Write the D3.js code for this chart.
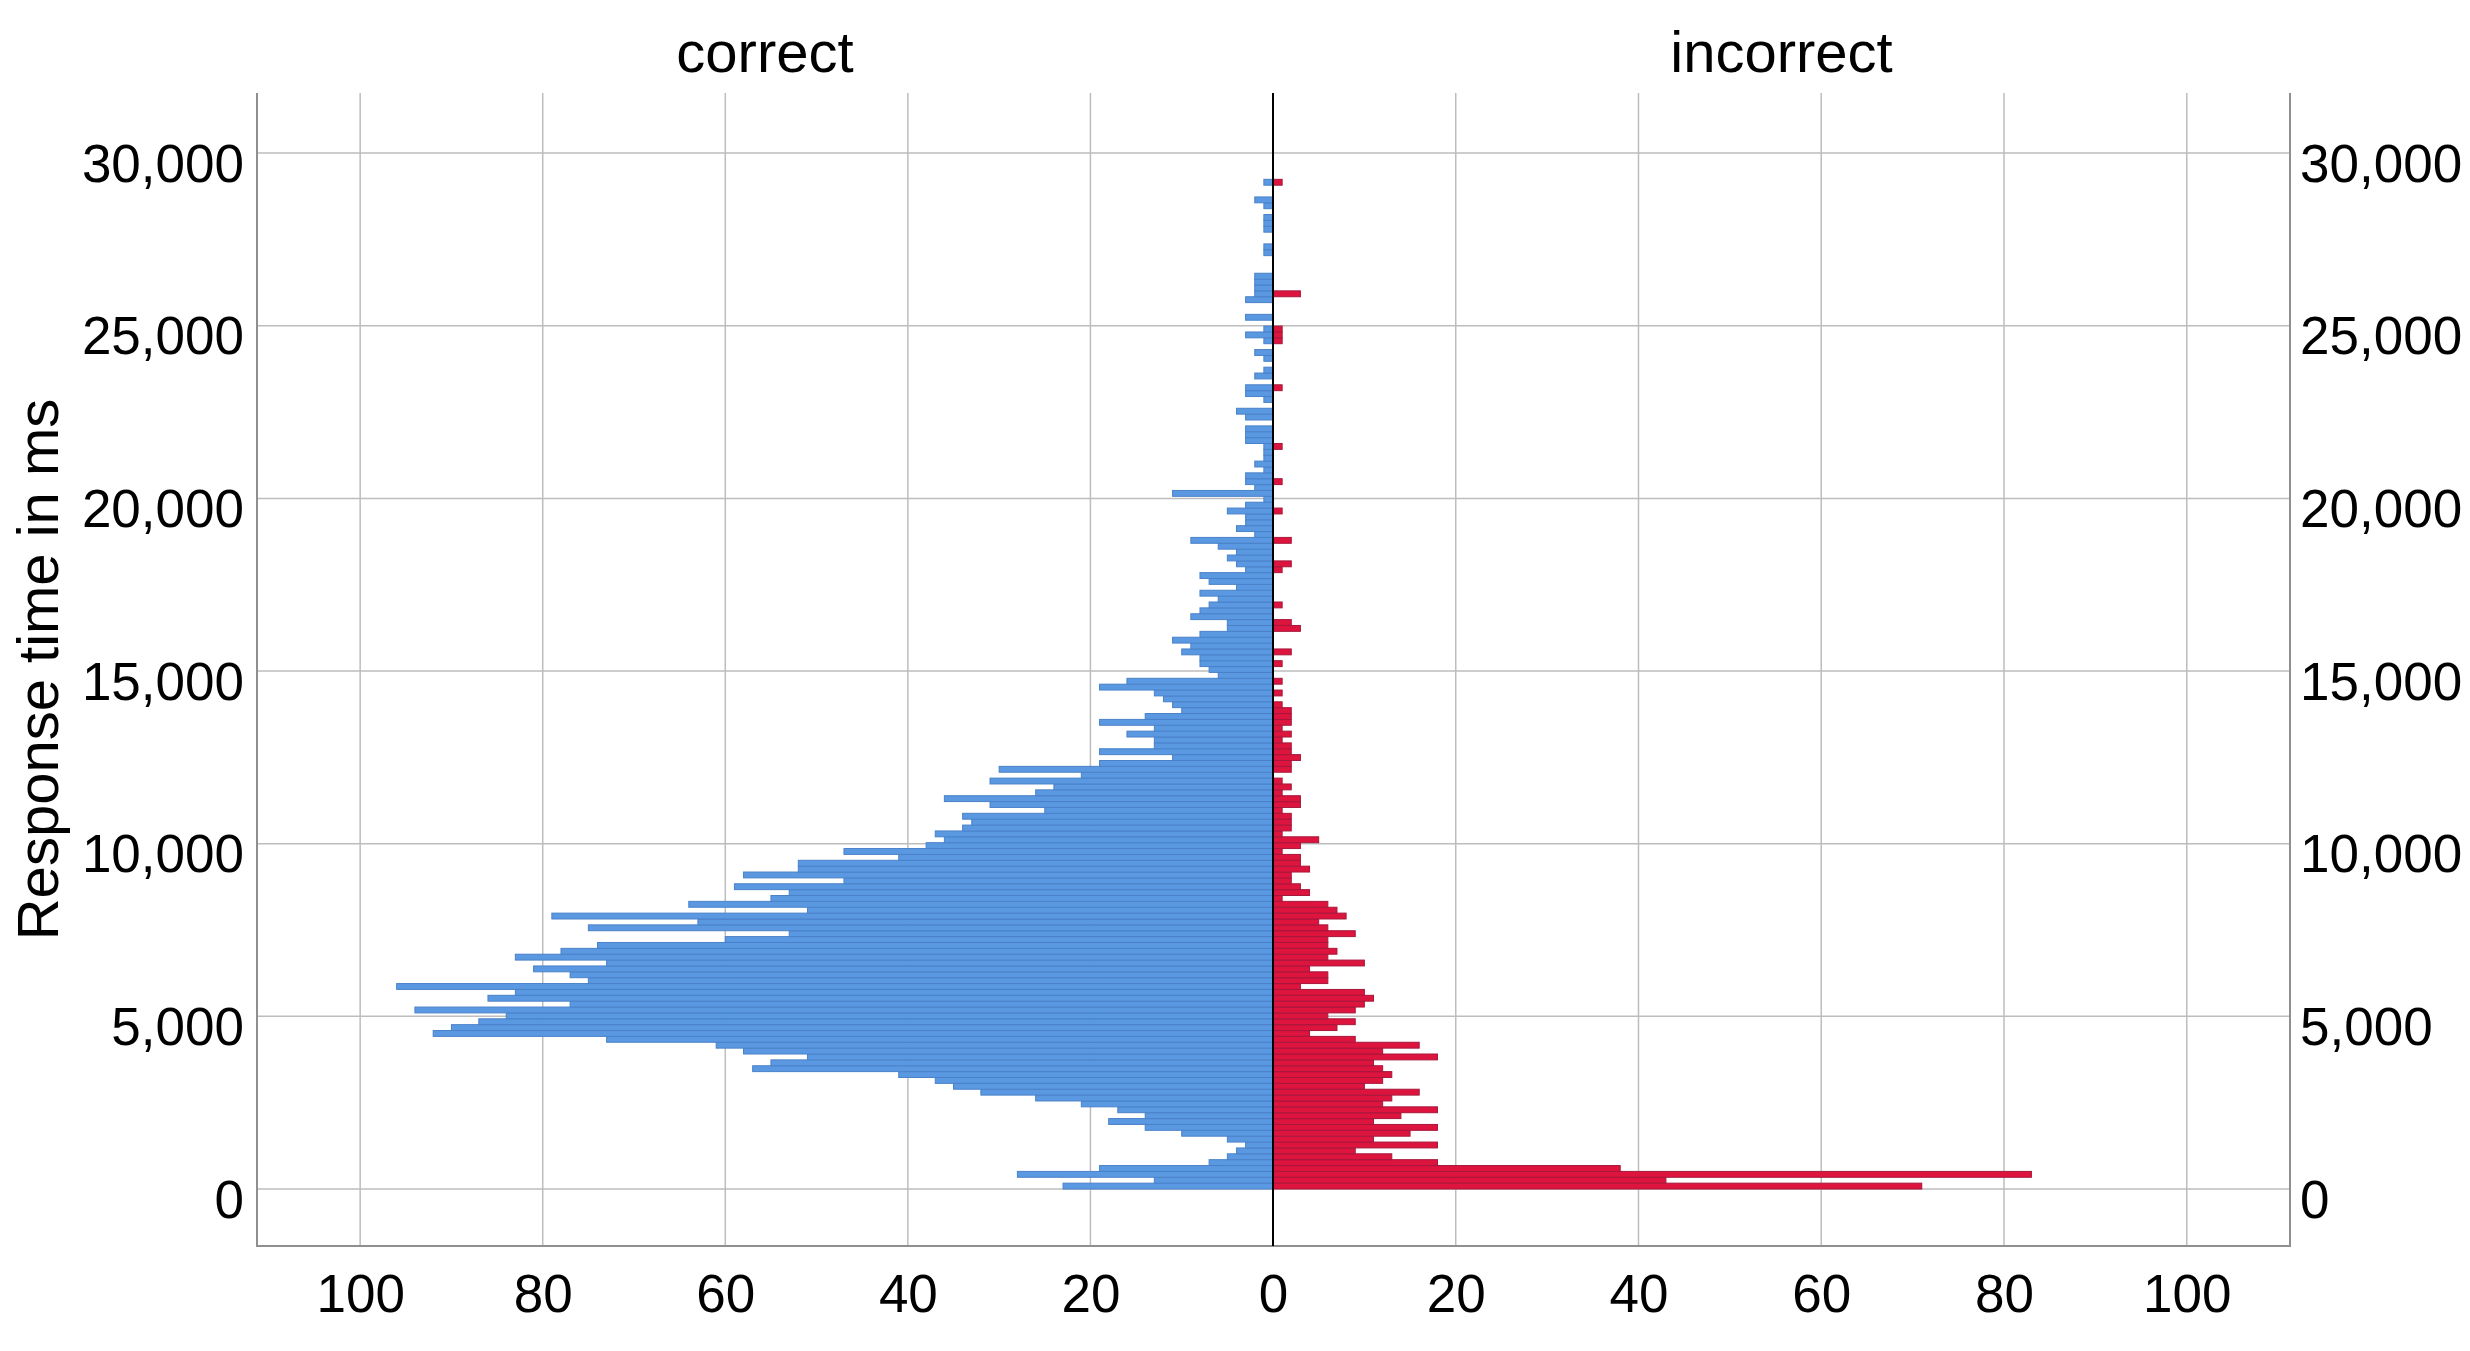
<!DOCTYPE html>
<html>
<head>
<meta charset="utf-8">
<script src="https://cdn.jsdelivr.net/npm/d3@7"></script>
<style>
  html, body { margin: 0; padding: 0; background: #fff; }
  svg { display: block; }
  text { font-family: "Liberation Sans", Arial, sans-serif; fill: #000; }
</style>
</head>
<body>
<svg id="chart" width="2470" height="1351"></svg>
<script>
// Histogram bins of response time, 170 ms wide, starting at 0 ms
const binWidth = 170;

// counts per bin (bin 0 = 0-170 ms)
const correctCounts = [
  23, 13, 28, 19, 7, 5, 4, 3, 5, 10,
  14, 18, 14, 17, 21, 26, 32, 35, 37, 41,
  57, 55, 51, 58, 61, 73, 92, 90, 87, 84,
  94, 77, 86, 83, 96, 75, 77, 81, 73, 83,
  78, 74, 60, 53, 75, 63, 79, 51, 64, 55,
  53, 59, 47, 58, 52, 52, 41, 47, 38, 36,
  37, 34, 33, 34, 25, 31, 36, 26, 24, 31,
  21, 30, 19, 11, 19, 13, 13, 16, 13, 19,
  14, 10, 11, 12, 13, 19, 16, 6, 7, 8,
  8, 10, 9, 11, 8, 5, 5, 9, 8, 7,
  6, 8, 4, 7, 8, 3, 4, 5, 4, 6,
  9, 2, 4, 3, 3, 5, 3, 1, 11, 2,
  3, 3, 1, 2, 1, 1, 1, 3, 3, 3,
  0, 3, 4, 0, 1, 3, 3, 0, 2, 1,
  0, 1, 2, 0, 1, 3, 1, 0, 3, 0,
  0, 3, 2, 2, 2, 2, 0, 0, 0, 1,
  1, 0, 0, 1, 1, 1, 0, 1, 2, 0,
  0, 1
];

const incorrectCounts = [
  71, 43, 83, 38, 18, 13, 9, 18, 11, 15,
  18, 11, 14, 18, 12, 13, 16, 10, 12, 13,
  12, 11, 18, 12, 16, 9, 4, 7, 9, 6,
  9, 10, 11, 10, 3, 6, 6, 4, 10, 6,
  7, 6, 6, 9, 6, 5, 8, 7, 6, 1,
  4, 3, 2, 2, 4, 3, 3, 1, 3, 5,
  1, 2, 2, 2, 1, 3, 3, 1, 2, 1,
  0, 2, 2, 3, 2, 2, 1, 2, 1, 2,
  2, 2, 1, 0, 1, 0, 1, 0, 0, 1,
  0, 2, 0, 0, 0, 3, 2, 0, 0, 1,
  0, 0, 0, 0, 0, 1, 2, 0, 0, 0,
  2, 0, 0, 0, 0, 1, 0, 0, 0, 0,
  1, 0, 0, 0, 0, 0, 1, 0, 0, 0,
  0, 0, 0, 0, 0, 0, 1, 0, 0, 0,
  0, 0, 0, 0, 1, 1, 1, 0, 0, 0,
  0, 0, 3, 0, 0, 0, 0, 0, 0, 0,
  0, 0, 0, 0, 0, 0, 0, 0, 0, 0,
  0, 1
];

const timeTicks = [0, 5000, 10000, 15000, 20000, 25000, 30000];
const countTicks = [0, 20, 40, 60, 80, 100];
const panelTitles = ["correct", "incorrect"];
const yTitle = "Response time in ms";

const bins = correctCounts.map((c, i) => ({
  start: i * binWidth,
  end: (i + 1) * binWidth,
  correct: c,
  incorrect: incorrectCounts[i]
}));

// Layout
const plotLeft = 257, plotRight = 2290, plotTop = 93, plotBottom = 1246;
const center = 1273;
const tickFont = 53;
const titleFont = 58;

const svg = d3.select("#chart");

const y = d3.scaleLinear().domain([-1650, 31740]).range([plotBottom, plotTop]);
const xLeft = d3.scaleLinear().domain([0, 111.3]).range([center, plotLeft]);
const xRight = d3.scaleLinear().domain([0, 111.3]).range([center, plotRight]);

// Grid lines
const grid = svg.append("g").attr("stroke", "#bdbdbd").attr("stroke-width", 1.5);
grid.selectAll("line.h")
  .data(timeTicks)
  .join("line")
  .attr("class", "h")
  .attr("x1", plotLeft).attr("x2", plotRight)
  .attr("y1", d => y(d)).attr("y2", d => y(d));
grid.selectAll("line.vl")
  .data(countTicks.filter(d => d > 0))
  .join("line")
  .attr("class", "vl")
  .attr("x1", d => xLeft(d)).attr("x2", d => xLeft(d))
  .attr("y1", plotTop).attr("y2", plotBottom);
grid.selectAll("line.vr")
  .data(countTicks.filter(d => d > 0))
  .join("line")
  .attr("class", "vr")
  .attr("x1", d => xRight(d)).attr("x2", d => xRight(d))
  .attr("y1", plotTop).attr("y2", plotBottom);

// Bars: correct to the left, incorrect to the right
svg.append("g")
  .selectAll("rect")
  .data(bins.filter(d => d.correct > 0))
  .join("rect")
  .attr("x", d => xLeft(d.correct))
  .attr("width", d => xLeft(0) - xLeft(d.correct))
  .attr("y", d => y(d.end))
  .attr("height", d => y(d.start) - y(d.end))
  .attr("fill", "#5b98e2")
  .attr("stroke", "#4a82c8")
  .attr("stroke-width", 1);

svg.append("g")
  .selectAll("rect")
  .data(bins.filter(d => d.incorrect > 0))
  .join("rect")
  .attr("x", xRight(0))
  .attr("width", d => xRight(d.incorrect) - xRight(0))
  .attr("y", d => y(d.end))
  .attr("height", d => y(d.start) - y(d.end))
  .attr("fill", "#dc143e")
  .attr("stroke", "#a8173c")
  .attr("stroke-width", 1);

// Frame (no top edge) and center line
svg.append("path")
  .attr("d", `M${plotLeft},${plotTop}V${plotBottom}H${plotRight}V${plotTop}`)
  .attr("fill", "none")
  .attr("stroke", "#8f8f8f")
  .attr("stroke-width", 2);

svg.append("line")
  .attr("x1", center).attr("x2", center)
  .attr("y1", plotTop).attr("y2", plotBottom)
  .attr("stroke", "#000")
  .attr("stroke-width", 2);

// Axes
function styleAxis(g) {
  g.select(".domain").remove();
  g.selectAll(".tick line").remove();
  g.selectAll("text")
    .attr("font-size", tickFont)
    .attr("font-family", "Liberation Sans, Arial, sans-serif")
    .attr("fill", "#000");
}

svg.append("g")
  .attr("transform", `translate(${plotLeft},0)`)
  .call(d3.axisLeft(y).tickValues(timeTicks).tickFormat(d3.format(",")).tickSize(0).tickPadding(13))
  .call(styleAxis)
  .call(g => g.selectAll("text").attr("dy", "0.53em"));

svg.append("g")
  .attr("transform", `translate(${plotRight},0)`)
  .call(d3.axisRight(y).tickValues(timeTicks).tickFormat(d3.format(",")).tickSize(0).tickPadding(10))
  .call(styleAxis)
  .call(g => g.selectAll("text").attr("dy", "0.53em"));

svg.append("g")
  .attr("transform", `translate(0,${plotBottom})`)
  .call(d3.axisBottom(xLeft).tickValues(countTicks).tickSize(0).tickPadding(28))
  .call(styleAxis);

svg.append("g")
  .attr("transform", `translate(0,${plotBottom})`)
  .call(d3.axisBottom(xRight).tickValues(countTicks.filter(d => d > 0)).tickSize(0).tickPadding(28))
  .call(styleAxis);

// Panel titles
svg.append("g")
  .selectAll("text")
  .data(panelTitles)
  .join("text")
  .attr("x", (d, i) => i === 0 ? (plotLeft + center) / 2 : (center + plotRight) / 2)
  .attr("y", 72)
  .attr("text-anchor", "middle")
  .attr("font-size", titleFont)
  .text(d => d);

// Y axis title
svg.append("text")
  .attr("transform", `translate(58,${(plotTop + plotBottom) / 2}) rotate(-90)`)
  .attr("text-anchor", "middle")
  .attr("font-size", titleFont)
  .text(yTitle);
</script>
</body>
</html>
